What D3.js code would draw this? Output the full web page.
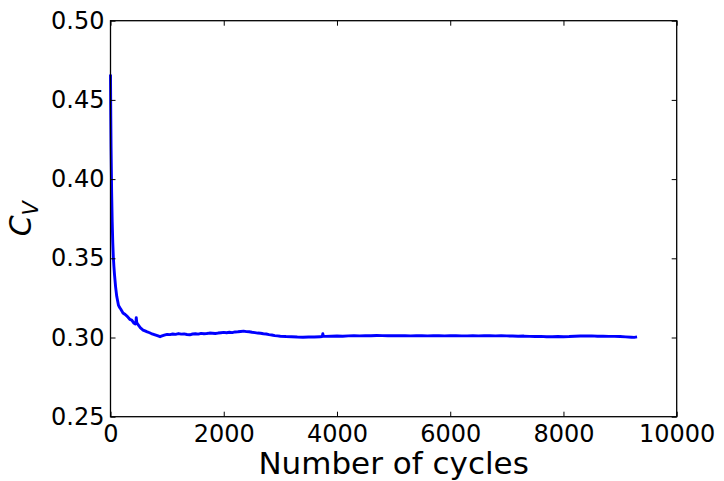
<!DOCTYPE html>
<html>
<head>
<meta charset="utf-8">
<script src="https://cdn.jsdelivr.net/npm/d3@7"></script>
<style>
  html, body { margin: 0; padding: 0; background: #fff; }
  svg { display: block; }
  text { font-family: "DejaVu Sans", sans-serif; fill: #000; }
</style>
</head>
<body>
<script>
// ---- data ----
const cycles = [
  0, 5, 10, 20, 30, 40, 50, 60, 70, 90, 110, 140, 160, 180, 200, 220, 260, 300, 340, 375,
  410, 440, 450, 455, 462, 470, 490, 530, 575, 620, 650, 690, 720, 760, 800, 840, 875, 910, 950,
  1000, 1050, 1100, 1150, 1200, 1250, 1300, 1350, 1400, 1450, 1500, 1550, 1600, 1650, 1700, 1750,
  1800, 1850, 1900, 1950, 2000, 2050, 2100, 2150, 2200, 2250, 2300, 2350, 2400, 2450, 2500, 2550,
  2600, 2650, 2700, 2750, 2800, 2850, 2900, 2950, 3000, 3100, 3200, 3300, 3400, 3500, 3600, 3700,
  3740, 3750, 3760, 3800, 3900, 4000, 4100, 4200, 4300, 4400, 4500, 4600, 4700, 4800, 4900, 5000,
  5100, 5200, 5300, 5400, 5500, 5600, 5700, 5800, 5900, 6000, 6100, 6200, 6300, 6400, 6500, 6600,
  6700, 6800, 6900, 7000, 7100, 7200, 7300, 7400, 7500, 7600, 7700, 7800, 7900, 8000, 8100, 8200,
  8300, 8400, 8500, 8600, 8700, 8800, 8900, 9000, 9100, 9200, 9250, 9300
];
const cv = [
  0.466, 0.440, 0.420, 0.392, 0.373, 0.360, 0.351, 0.345, 0.340, 0.332, 0.326, 0.3205, 0.3190, 0.3180, 0.3168, 0.3155, 0.3145, 0.3132, 0.3115, 0.3110,
  0.3092, 0.3085, 0.3100, 0.3125, 0.3098, 0.3090, 0.3080, 0.3060, 0.3047, 0.3040, 0.3035, 0.3030, 0.3025, 0.3020, 0.3015, 0.3010, 0.3005, 0.3010, 0.3015,
  0.3020, 0.3018, 0.3022, 0.3020, 0.3025, 0.3021, 0.3023, 0.3019, 0.3017, 0.3022, 0.3024, 0.3021, 0.3026, 0.3024, 0.3025, 0.3028,
  0.3027, 0.3025, 0.3028, 0.3030, 0.3032, 0.3030, 0.3033, 0.3031, 0.3035, 0.3036, 0.3038, 0.3040, 0.3037, 0.3036, 0.3033, 0.3031,
  0.3028, 0.3027, 0.3024, 0.3022, 0.3018, 0.3016, 0.3012, 0.3010, 0.3008, 0.3006, 0.3005, 0.3003, 0.3002, 0.3003, 0.3003, 0.3005,
  0.3006, 0.3024, 0.3008, 0.3007, 0.3008, 0.3009, 0.3008, 0.3010, 0.3011, 0.3010, 0.3012, 0.3011, 0.3013, 0.3012, 0.3011, 0.3012,
  0.3011, 0.3012, 0.3010, 0.3012, 0.3011, 0.3010, 0.3011, 0.3012, 0.3010, 0.3011, 0.3012, 0.3010, 0.3010, 0.3011, 0.3010, 0.3012,
  0.3011, 0.3010, 0.3011, 0.3010, 0.3009, 0.3008, 0.3009, 0.3007, 0.3006, 0.3007, 0.3005, 0.3005, 0.3006, 0.3005, 0.3006, 0.3008,
  0.3009, 0.3009, 0.3010, 0.3008, 0.3008, 0.3007, 0.3007, 0.3006, 0.3004, 0.3002, 0.3001, 0.3004
];
const xTicks = [0, 2000, 4000, 6000, 8000, 10000];
const yTicks = [0.25, 0.30, 0.35, 0.40, 0.45, 0.50];
const xLabel = "Number of cycles";

// ---- layout ----
const W = 724, H = 481;
const L = 110.5, R = 676.7, T = 20.7, B = 416.7;

const svg = d3.select("body").append("svg").attr("width", W).attr("height", H);

const x = d3.scaleLinear().domain([0, 10000]).range([L, R]);
const y = d3.scaleLinear().domain([0.25, 0.50]).range([B, T]);

// line
const pts = cycles.map((c, i) => [c, cv[i]]);
svg.append("path")
  .datum(pts)
  .attr("fill", "none")
  .attr("stroke", "#0000ff")
  .attr("stroke-width", 2.9)
  .attr("stroke-linejoin", "round")
  .attr("d", d3.line().x(d => x(d[0])).y(d => y(d[1])));

const tickLen = 5;
const fmtY = d3.format(".2f");

// bottom axis
const gB = svg.append("g").attr("transform", `translate(0,${B})`)
  .call(d3.axisBottom(x).tickValues(xTicks).tickSizeInner(-tickLen).tickSizeOuter(0).tickPadding(8).tickFormat(d3.format("d")));
// top axis
const gT = svg.append("g").attr("transform", `translate(0,${T})`)
  .call(d3.axisTop(x).tickValues(xTicks).tickSizeInner(-tickLen).tickSizeOuter(0).tickFormat(""));
// left axis
const gL = svg.append("g").attr("transform", `translate(${L},0)`)
  .call(d3.axisLeft(y).tickValues(yTicks).tickSizeInner(-tickLen).tickSizeOuter(0).tickPadding(6).tickFormat(fmtY));
// right axis
const gR = svg.append("g").attr("transform", `translate(${R},0)`)
  .call(d3.axisRight(y).tickValues(yTicks).tickSizeInner(-tickLen).tickSizeOuter(0).tickFormat(""));

[gB, gT, gL, gR].forEach(g => {
  g.select(".domain").remove();
  g.selectAll(".tick line").attr("stroke", "#000").attr("stroke-width", 1);
  g.selectAll("text").attr("font-family", "DejaVu Sans").attr("font-size", 24).attr("fill", "#000");
});
gB.selectAll(".tick text").attr("dy", "0.71em");

// frame
svg.append("rect")
  .attr("x", L).attr("y", T).attr("width", R - L).attr("height", B - T)
  .attr("fill", "none").attr("stroke", "#000").attr("stroke-width", 1.3);

// x label
svg.append("text")
  .attr("x", (L + R) / 2).attr("y", 474)
  .attr("text-anchor", "middle")
  .attr("font-size", 31)
  .text(xLabel);

// y label C_V
const yl = svg.append("text")
  .attr("transform", `translate(31,${(T + B) / 2}) rotate(-90)`)
  .attr("text-anchor", "middle")
  .attr("font-style", "italic")
  .attr("font-size", 30);
yl.append("tspan").text("C");
yl.append("tspan").attr("font-size", 21).attr("dy", 7).text("V");
</script>
</body>
</html>
